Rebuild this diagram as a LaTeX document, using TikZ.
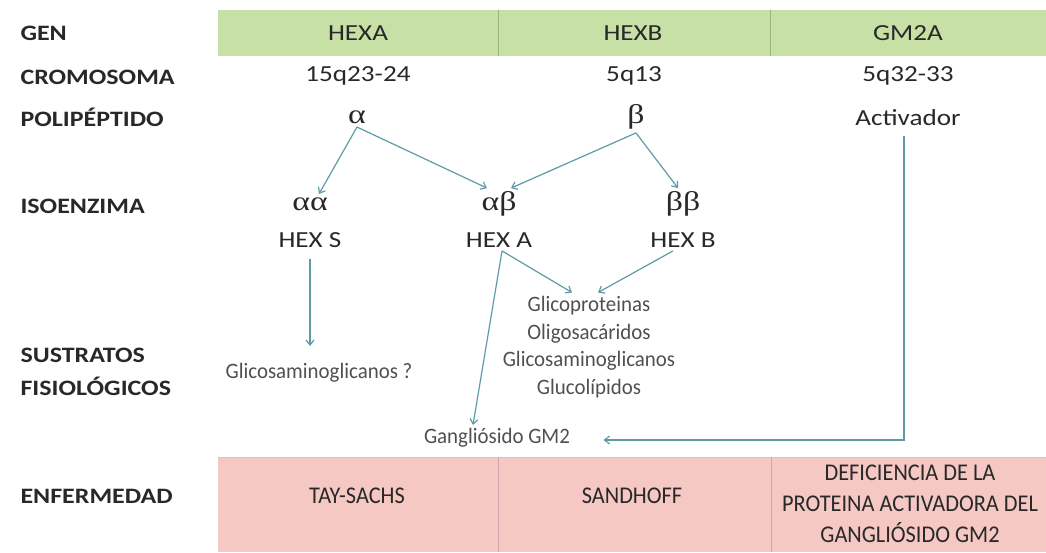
\documentclass[tikz,border=0pt]{standalone}
\usepackage{fontspec}
\setmainfont[FakeStretch=1.18]{Carlito}
\newfontfamily\sustfont[FakeStretch=0.95]{Carlito}
\newfontfamily\enffont[FakeStretch=0.93]{Carlito}
\newfontfamily\grkfont[FakeStretch=1.25]{Liberation Serif}
\usetikzlibrary{arrows.meta,positioning}
\definecolor{genfill}{RGB}{198,224,166}
\definecolor{genline}{RGB}{150,180,125}
\definecolor{enffill}{RGB}{246,200,196}
\definecolor{enfline}{RGB}{205,165,175}
\definecolor{arrcolor}{RGB}{95,155,165}
\definecolor{headcolor}{RGB}{40,40,40}
\definecolor{subcolor}{RGB}{80,80,80}

\begin{document}
\begin{tikzpicture}[x=1pt,y=-1pt,
  rowlabel/.style={anchor=west,align=left,font=\fontsize{22}{33}\selectfont\bfseries,text=headcolor},
  cell/.style={font=\fontsize{23}{26}\selectfont,text=headcolor},
  grk/.style={font=\fontsize{27}{28}\grkfont,text=headcolor},
  sust/.style={align=center,font=\fontsize{22}{27.7}\sustfont,text=subcolor},
  enf/.style={align=center,font=\fontsize{24}{31}\enffont,text=headcolor},
  link/.style={draw=arrcolor,line width=1.2pt,-{Straight Barb[length=5pt,width=8pt]}}]

  \useasboundingbox (0,0) rectangle (1046,552);
  % coloured bands
  \fill[genfill] (218,10) rectangle (1046,56);
  \draw[genline] (498,10) -- (498,56) (770,10) -- (770,56);
  \fill[enffill] (218,457) rectangle (1046,552);
  \draw[genline!60] (218,457) -- (1046,457);
  \draw[enfline] (498,457) -- (498,552) (771,457) -- (771,552);

  % row labels
  \node[rowlabel] (lgen) at (17,33) {GEN};
  \node[rowlabel] (lcrom) at (17,77) {CROMOSOMA};
  \node[rowlabel] (lpoli) at (17,117) {POLIPÉPTIDO};
  \node[rowlabel] (liso) at (17,206) {ISOENZIMA};
  \node[rowlabel] (lsust) at (17,372) {SUSTRATOS\\FISIOLÓGICOS};
  \node[rowlabel] (lenf) at (17,496) {ENFERMEDAD};

  % genes, chromosomes, polypeptides
  \node[cell] (hexa) at (358,33) {HEXA};
  \node[cell] (hexb) at (633,33) {HEXB};
  \node[cell] (gmA) at (908,33) {GM2A};
  \node[cell] (cra) at (358,76) {15q23-24};
  \node[cell] (crb) at (634,76) {5q13};
  \node[cell] (crc) at (908,76) {5q32-33};
  \node[grk] (alpha) at (357,117) {α};
  \node[grk] (beta) at (636,117) {β};
  \node[cell] (act) at (908,118) {Activador};

  % isoenzymes
  \node[grk] (aa) at (310,204) {αα};
  \node[grk] (ab) at (499,204) {αβ};
  \node[grk] (bb) at (683,204) {ββ};
  \node[cell] (hexS) at (310,240) {HEX S};
  \node[cell] (hexA) at (499,240) {HEX A};
  \node[cell] (hexB) at (683,240) {HEX B};

  % substrates
  \node[sust] (gag) at (319,373) {Glicosaminoglicanos ?};
  \node[sust] (sub) at (589,347) {Glicoproteinas\\Oligosacáridos\\Glicosaminoglicanos\\Glucolípidos};
  \node[sust] (gm2) at (497,438) {Gangliósido GM2};

  % diseases
  \node[enf] (tay) at (357,496) {TAY-SACHS};
  \node[enf] (sand) at (632,496) {SANDHOFF};
  \node[enf] (defi) at (910,504) {DEFICIENCIA DE LA\\PROTEINA ACTIVADORA DEL\\GANGLIÓSIDO GM2};

  % arrows
  \draw[link] (alpha.south) -- ([xshift=9pt]aa.north);
  \draw[link] (alpha.south) -- ([xshift=-12pt]ab.north);
  \draw[link] (beta.south) -- ([xshift=12pt]ab.north);
  \draw[link] (beta.south) -- ([xshift=-5pt]bb.north);
  \draw[link,shorten <=8pt] (hexS.south) -- ([yshift=14pt]hexS.south |- gag.north);
  \draw[link] ([xshift=3pt]hexA.south) -- ([xshift=-17pt]sub.north);
  \draw[link] ([xshift=-10pt]hexB.south) -- ([xshift=9pt]sub.north);
  \draw[link] ([xshift=3pt]hexA.south) -- ([xshift=-24pt]gm2.north);
  \draw[link,shorten <=6pt] ([xshift=-4pt]act.south) |- ([xshift=30pt,yshift=-2pt]gm2.east);
\end{tikzpicture}
\end{document}
